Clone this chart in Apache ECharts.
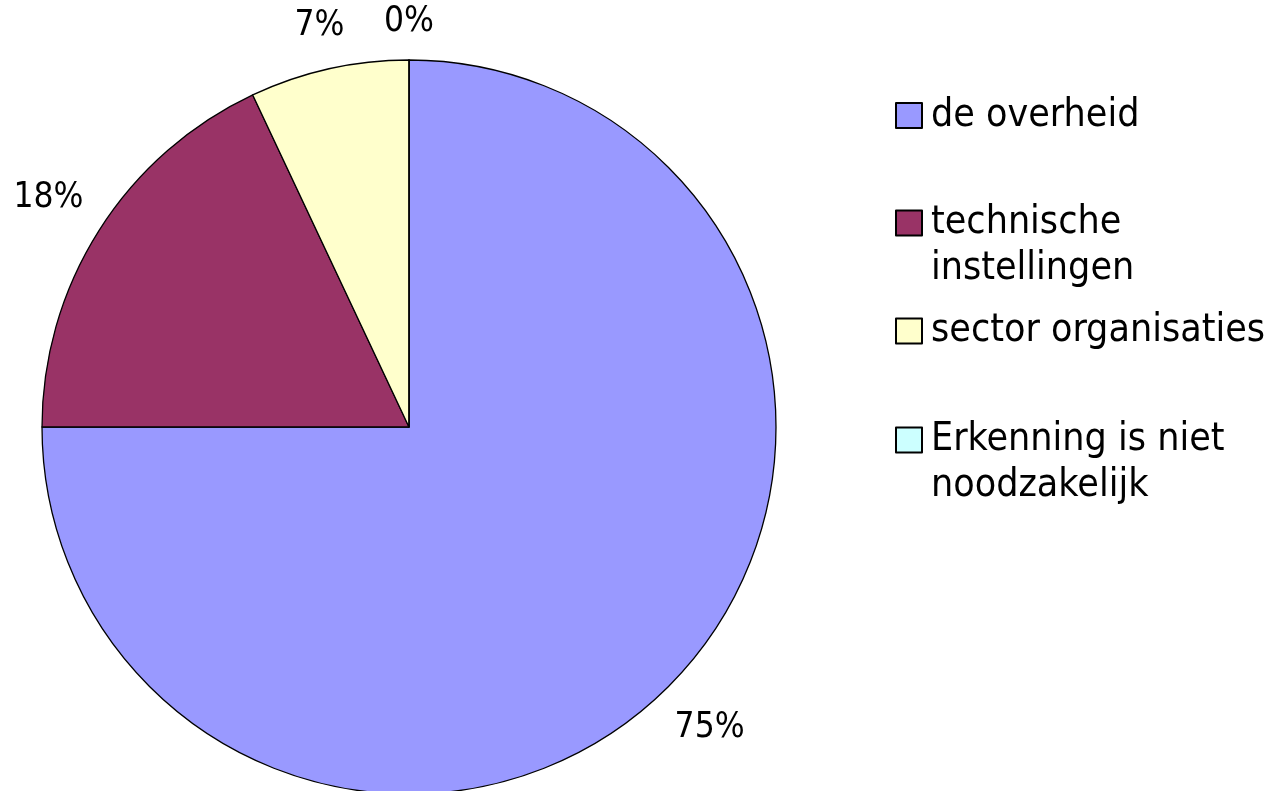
<!DOCTYPE html>
<html>
<head>
<meta charset="utf-8">
<title>pie</title>
<script src="https://cdn.jsdelivr.net/npm/echarts@6/dist/echarts.min.js"></script>
<style>
html, body { margin: 0; padding: 0; background: #fff; }
#main { width: 1276px; height: 791px; }
</style>
</head>
<body>
<div id="main"></div>
<script>
// data
var categories = ['de overheid', 'technische instellingen', 'sector organisaties', 'Erkenning is niet noodzakelijk'];
var legendLabels = ['de overheid', 'technische\ninstellingen', 'sector organisaties', 'Erkenning is niet\nnoodzakelijk'];
var values = [75, 18, 7, 0];
var colors = ['#9999FF', '#993366', '#FFFFCC', '#CCFFFF'];

var FONT = '"DejaVu Sans Condensed", "DejaVu Sans", sans-serif';
var LINE_H = 46;
var LABEL_GAP = 21;
// vertical centre of each legend square
var legendIconY = [115.5, 223, 331, 440];

window.onload = function() {
	var myChart = echarts.init(document.getElementById('main'));

	// one legend per entry so they are spaced like the original
	var legends = [];
	for (var i = 0; i < categories.length; i++) {
		var n = legendLabels[i].split('\n').length;
		legends.push({
			data: [{ name: categories[i], icon: 'rect' }],
			orient: 'vertical',
			left: 895,
			top: legendIconY[i] - (2 * n - 1) * LINE_H / 2,
			padding: 0,
			itemWidth: 26,
			itemHeight: 25,
			selectedMode: false,
			formatter: function(name) {
				var txt = legendLabels[categories.indexOf(name)];
				// empty lines in front so the first line sits next to the square
				var k = txt.split('\n').length;
				return new Array(k).join('\n') + txt;
			},
			textStyle: {
				fontFamily: FONT,
				fontSize: 39,
				color: '#000',
				lineHeight: LINE_H,
				padding: [0, 0, 0, 4]
			}
		});
	}

	var data = [];
	for (var j = 0; j < categories.length; j++) {
		data.push({ name: categories[j], value: values[j], itemStyle: { color: colors[j] } });
	}

	var option = {
		animation: false,
		backgroundColor: '#fff',
		legend: legends,
		series: [{
			type: 'pie',
			center: [409, 427],
			radius: 367,
			startAngle: 90,
			clockwise: true,
			avoidLabelOverlap: false,
			percentPrecision: 0,
			silent: true,
			data: data,
			itemStyle: { borderColor: '#000', borderWidth: 1.3 },
			label: {
				show: true,
				position: 'outside',
				formatter: '{d}%',
				fontFamily: FONT,
				fontSize: 35,
				color: '#000'
			},
			labelLine: { show: true, length: 10, length2: 0, lineStyle: { opacity: 0 } },
			// put labels just outside the rim along the slice's middle direction
			labelLayout: function(params) {
				var pts = params.labelLinePoints;
				if (!pts) return {};
				var dx = pts[1][0] - pts[0][0], dy = pts[1][1] - pts[0][1];
				var len = Math.sqrt(dx * dx + dy * dy) || 1;
				dx /= len; dy /= len;
				var w = params.labelRect.width, h = params.labelRect.height;
				var off = LABEL_GAP + Math.abs(dx) * w / 2 + Math.abs(dy) * h / 2;
				return {
					x: pts[0][0] + dx * off,
					y: pts[0][1] + dy * off,
					align: 'center',
					verticalAlign: 'middle'
				};
			}
		}]
	};
	myChart.setOption(option);
};
</script>
</body>
</html>
